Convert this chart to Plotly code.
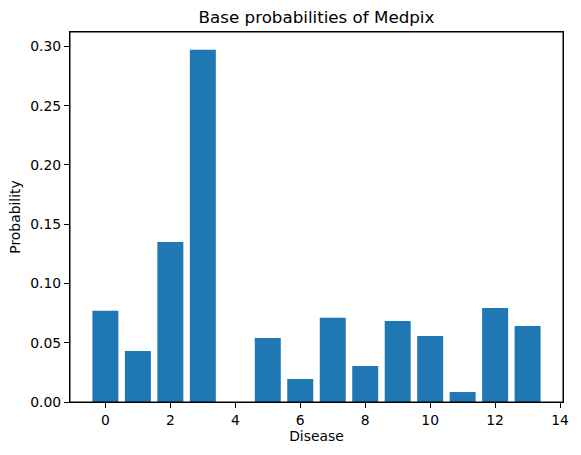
import plotly.graph_objects as go

# Medpix base probabilities per disease id
disease = list(range(14))
probability = [0.0769, 0.0431, 0.1350, 0.2973, 0.0, 0.0540, 0.0194,
               0.0710, 0.0304, 0.0684, 0.0557, 0.0084, 0.0794, 0.0642]

x_ticks = [0, 2, 4, 6, 8, 10, 12, 14]
y_ticks = [0.00, 0.05, 0.10, 0.15, 0.20, 0.25, 0.30]

fig = go.Figure()
fig.add_trace(go.Bar(x=disease, y=probability, width=0.8,
                     marker=dict(color="#1f77b4", line=dict(width=0))))

axis_style = dict(showline=True, linecolor="black", linewidth=1, mirror=True,
                  ticks="outside", ticklen=5, tickwidth=1, tickcolor="black",
                  showgrid=False, zeroline=False,
                  tickfont=dict(size=13.9, color="black"))

fig.update_layout(
    width=581, height=455,
    margin=dict(l=70, r=15, t=32, b=53),
    plot_bgcolor="white", paper_bgcolor="white",
    font=dict(family="DejaVu Sans", color="black"),
    title=dict(text="Base probabilities of Medpix", x=0.5, xref="paper",
               y=1, yref="paper", yanchor="bottom", pad=dict(b=9),
               font=dict(size=16.7)),
    xaxis=dict(range=[-1.09, 14.09], tickvals=x_ticks,
               title=dict(text="Disease", font=dict(size=13.9), standoff=4),
               **axis_style),
    yaxis=dict(range=[0, 0.3122], tickvals=y_ticks, tickformat=".2f",
               title=dict(text="Probability", font=dict(size=13.9), standoff=6),
               **axis_style),
    showlegend=False,
)

# full box round the axes, like matplotlib spines
fig.add_shape(type="rect", xref="paper", yref="paper", x0=0, y0=0, x1=1, y1=1,
              line=dict(color="black", width=1), layer="above")

# drop the default 8px body margin so the figure sits at the page corner
fig.write_html("out.html", config={"displayModeBar": False},
               post_script="document.body.style.margin='0';")
